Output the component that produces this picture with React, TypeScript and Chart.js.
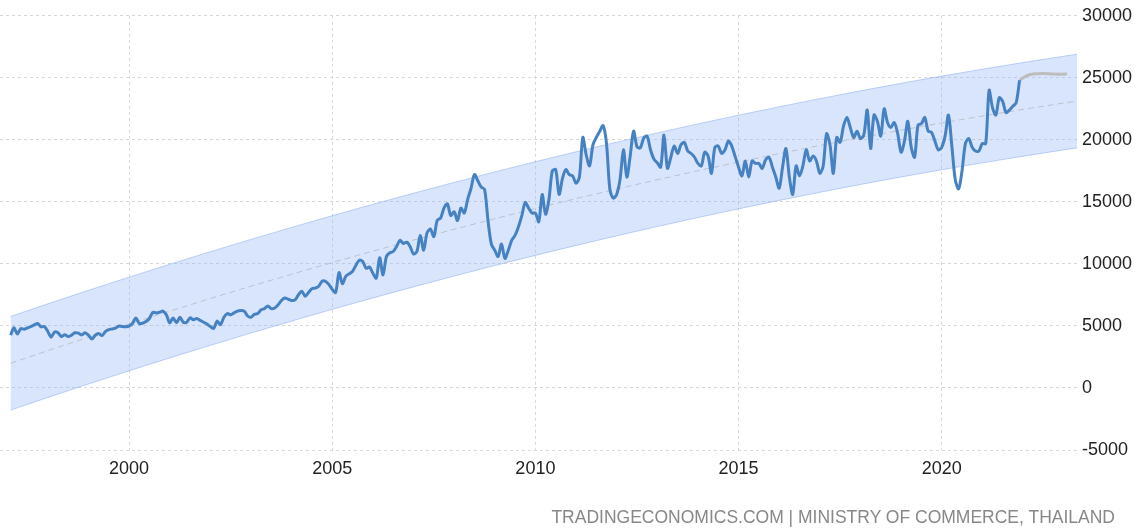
import React, { useEffect, useRef } from 'react';
import { Chart, registerables } from 'chart.js';

Chart.register(...registerables);

// Thailand exports (USD million), monthly, starting February 1997
const START_YEAR = 1997;
const START_MONTH = 1; // 0-based month index (February)

const values1997 = [4260, 4850, 4350, 4780, 4740, 4850, 4950, 5080, 5200, 4930, 4950];
const values1998 = [4550, 4100, 4520, 4450, 4150, 4300, 4140, 4260, 4450, 4420, 4280, 4450];
const values1999 = [4260, 3950, 4250, 4400, 4220, 4550, 4700, 4760, 4820, 5000, 4950, 4930];
const values2000 = [4980, 5200, 5650, 5200, 5220, 5350, 5600, 6100, 6050, 6100, 6200, 5900];
const values2001 = [5250, 5650, 5250, 5700, 5300, 5300, 5650, 5500, 5600, 5450, 5300, 5150];
const values2002 = [4950, 4800, 5400, 5100, 5700, 6000, 5900, 6050, 6200, 6250, 6200, 5800];
const values2003 = [5700, 5930, 6000, 6300, 6400, 6600, 6400, 6450, 6700, 7050, 7250, 7150];
const values2004 = [7050, 7100, 7500, 7800, 7400, 7700, 8000, 8050, 8200, 8600, 8600, 8350];
const values2005 = [7950, 7700, 9300, 8400, 9000, 9200, 9400, 9900, 10300, 10200, 9650, 9750];
const values2006 = [9250, 8850, 10500, 9100, 10600, 10900, 11000, 11400, 11900, 11650, 11750, 11400];
const values2007 = [10800, 11000, 12300, 11100, 12500, 12800, 12200, 13500, 13700, 14500, 14840, 13900];
const values2008 = [14200, 13500, 14500, 14100, 15200, 16100, 17200, 16700, 16200, 16000, 13500, 11600];
const values2009 = [11100, 10600, 11600, 10450, 11100, 11900, 12300, 13000, 13900, 14950, 14500, 14100];
const values2010 = [14100, 13400, 15600, 14000, 15200, 17500, 17600, 15600, 16900, 17600, 17200, 17100];
const values2011 = [16500, 17000, 20200, 18800, 17900, 19600, 20200, 20700, 21150, 19700, 16000, 15300];
const values2012 = [15600, 16800, 19200, 17000, 18700, 20700, 19450, 19350, 20150, 20300, 19200, 18450];
const values2013 = [18150, 17800, 20400, 17700, 18600, 19500, 18900, 19600, 19800, 19100, 18900, 18600];
const values2014 = [18100, 17900, 19000, 18700, 17300, 19400, 19500, 18900, 19200, 19900, 19500, 18650];
const values2015 = [17800, 17100, 18300, 17000, 18300, 18100, 18100, 17700, 18400, 18600, 17800, 17000];
const values2016 = [16100, 17800, 19300, 17000, 15600, 17900, 17100, 17900, 19200, 18300, 18700, 18300];
const values2017 = [17300, 17900, 20500, 19600, 17300, 20200, 19800, 21100, 21800, 21000, 20200, 20700];
const values2018 = [20100, 20400, 22400, 19300, 22000, 21500, 20300, 22500, 21400, 21000, 21400, 20500];
const values2019 = [19000, 19900, 21500, 19400, 18600, 21200, 21300, 21800, 20700, 20600, 19900, 19200];
const values2020 = [19400, 20300, 22000, 19500, 16800, 16050, 17500, 19700, 20100, 19400, 19100, 19100];
const values2021 = [19700, 19700, 24000, 22600, 22000, 23400, 23100, 22200, 22400, 22700, 23000, 24800];

const monthlyValues = [
  ...values1997, ...values1998, ...values1999, ...values2000, ...values2001,
  ...values2002, ...values2003, ...values2004, ...values2005, ...values2006,
  ...values2007, ...values2008, ...values2009, ...values2010, ...values2011,
  ...values2012, ...values2013, ...values2014, ...values2015, ...values2016,
  ...values2017, ...values2018, ...values2019, ...values2020, ...values2021,
];

// Forecast (grey)
const forecastDates = [2021.917, 2022.083, 2022.25, 2022.5, 2022.75, 2023.083];
const forecastValues = [24800, 25150, 25300, 25350, 25300, 25300];

// Trend channel
const bandYears = [1997.083, 1998, 1999, 2000, 2001, 2002, 2003, 2004, 2005, 2006, 2007, 2008, 2009, 2010,
  2011, 2012, 2013, 2014, 2015, 2016, 2017, 2018, 2019, 2020, 2021, 2022, 2023, 2023.33];
const bandUpper = [5765, 6783, 7870, 8933, 9971, 10986, 11977, 12944, 13886, 14805, 15699, 16570, 17416, 18238,
  19037, 19811, 20561, 21287, 21989, 22667, 23321, 23951, 24557, 25138, 25696, 26230, 26739, 26902];
const bandLower = [-1785, -767, 320, 1383, 2421, 3436, 4427, 5394, 6336, 7255, 8149, 9020, 9866, 10688,
  11487, 12261, 13011, 13737, 14439, 15117, 15771, 16401, 17007, 17588, 18146, 18680, 19189, 19352];
const trendValues = [1990, 3008, 4095, 5158, 6196, 7211, 8202, 9169, 10111, 11030, 11924, 12795, 13641, 14463,
  15262, 16036, 16786, 17512, 18214, 18892, 19546, 20176, 20782, 21363, 21921, 22455, 22964, 23127];

const xTickYears = [2000, 2005, 2010, 2015, 2020];
const yTickValues = [-5000, 0, 5000, 10000, 15000, 20000, 25000, 30000];
const sourceText = 'TRADINGECONOMICS.COM | MINISTRY OF COMMERCE, THAILAND';

const FONT = '"Liberation Sans", Arial, sans-serif';

export default function App() {
  const ref = useRef<HTMLCanvasElement | null>(null);

  useEffect(() => {
    if (!ref.current) return;
    const actual = monthlyValues.map((v, i) => ({ x: START_YEAR + (START_MONTH + i) / 12, y: v }));
    const forecast = forecastDates.map((d, i) => ({ x: d, y: forecastValues[i] }));
    const upper = bandYears.map((d, i) => ({ x: d, y: bandUpper[i] }));
    const lower = bandYears.map((d, i) => ({ x: d, y: bandLower[i] }));
    const trend = bandYears.map((d, i) => ({ x: d, y: trendValues[i] }));

    const chart = new Chart(ref.current, {
      type: 'line',
      data: {
        datasets: [
          {
            label: 'Exports',
            data: actual,
            borderColor: '#4682c2',
            borderWidth: 3,
            pointRadius: 0,
            tension: 0.3,
            fill: false,
          },
          {
            label: 'Forecast',
            data: forecast,
            borderColor: '#bdbdbd',
            borderWidth: 3,
            pointRadius: 0,
            tension: 0.4,
            fill: false,
          },
          {
            label: 'Trend',
            data: trend,
            borderColor: 'rgba(150,150,150,0.45)',
            borderWidth: 1,
            borderDash: [6, 4],
            pointRadius: 0,
            fill: false,
          },
          {
            label: 'Lower',
            data: lower,
            borderColor: 'rgba(120,160,235,0.45)',
            borderWidth: 1,
            pointRadius: 0,
            fill: false,
          },
          {
            label: 'Upper',
            data: upper,
            borderColor: 'rgba(120,160,235,0.45)',
            borderWidth: 1,
            pointRadius: 0,
            fill: '-1',
            backgroundColor: 'rgba(140,180,245,0.34)',
          },
        ],
      },
      options: {
        animation: false,
        responsive: false,
        events: [],
        layout: { padding: { top: 14, left: 0, right: 0, bottom: 0 } },
        plugins: {
          legend: { display: false },
          tooltip: { enabled: false },
          filler: { drawTime: 'beforeDatasetsDraw' },
        },
        scales: {
          x: {
            type: 'linear',
            min: 1996.823,
            max: 2023.33,
            afterBuildTicks: (s: any) => {
              s.ticks = xTickYears.map((v) => ({ value: v }));
            },
            afterFit: (s: any) => {
              s.height = 82;
            },
            ticks: {
              callback: (v: any) => String(v),
              color: '#222',
              font: { family: FONT, size: 18 },
              padding: 8,
              maxRotation: 0,
              autoSkip: false,
            },
            grid: { color: '#d8d8d8', drawTicks: false, lineWidth: 1 },
            border: { display: false, dash: [3, 3] },
          },
          y: {
            position: 'right',
            min: -5000,
            max: 30000,
            afterBuildTicks: (s: any) => {
              s.ticks = yTickValues.map((v) => ({ value: v }));
            },
            afterFit: (s: any) => {
              s.width = 58;
            },
            ticks: {
              callback: (v: any) => String(v),
              color: '#222',
              font: { family: FONT, size: 18 },
              padding: 5,
            },
            grid: { color: '#d8d8d8', drawTicks: false, lineWidth: 1 },
            border: { display: false, dash: [3, 3] },
          },
        },
      },
    } as any);
    return () => chart.destroy();
  }, []);

  return (
    <div style={{ position: 'fixed', left: 0, top: 0, width: 1135, height: 532, background: '#fff' }}>
      <canvas ref={ref} width={1135} height={532} style={{ display: 'block', width: 1135, height: 532 }} />
      <div
        style={{
          position: 'absolute',
          right: 20,
          top: 507,
          fontFamily: FONT,
          fontSize: 17.5,
          lineHeight: '20px',
          color: '#888',
          whiteSpace: 'nowrap',
        }}
      >
        {sourceText}
      </div>
    </div>
  );
}
